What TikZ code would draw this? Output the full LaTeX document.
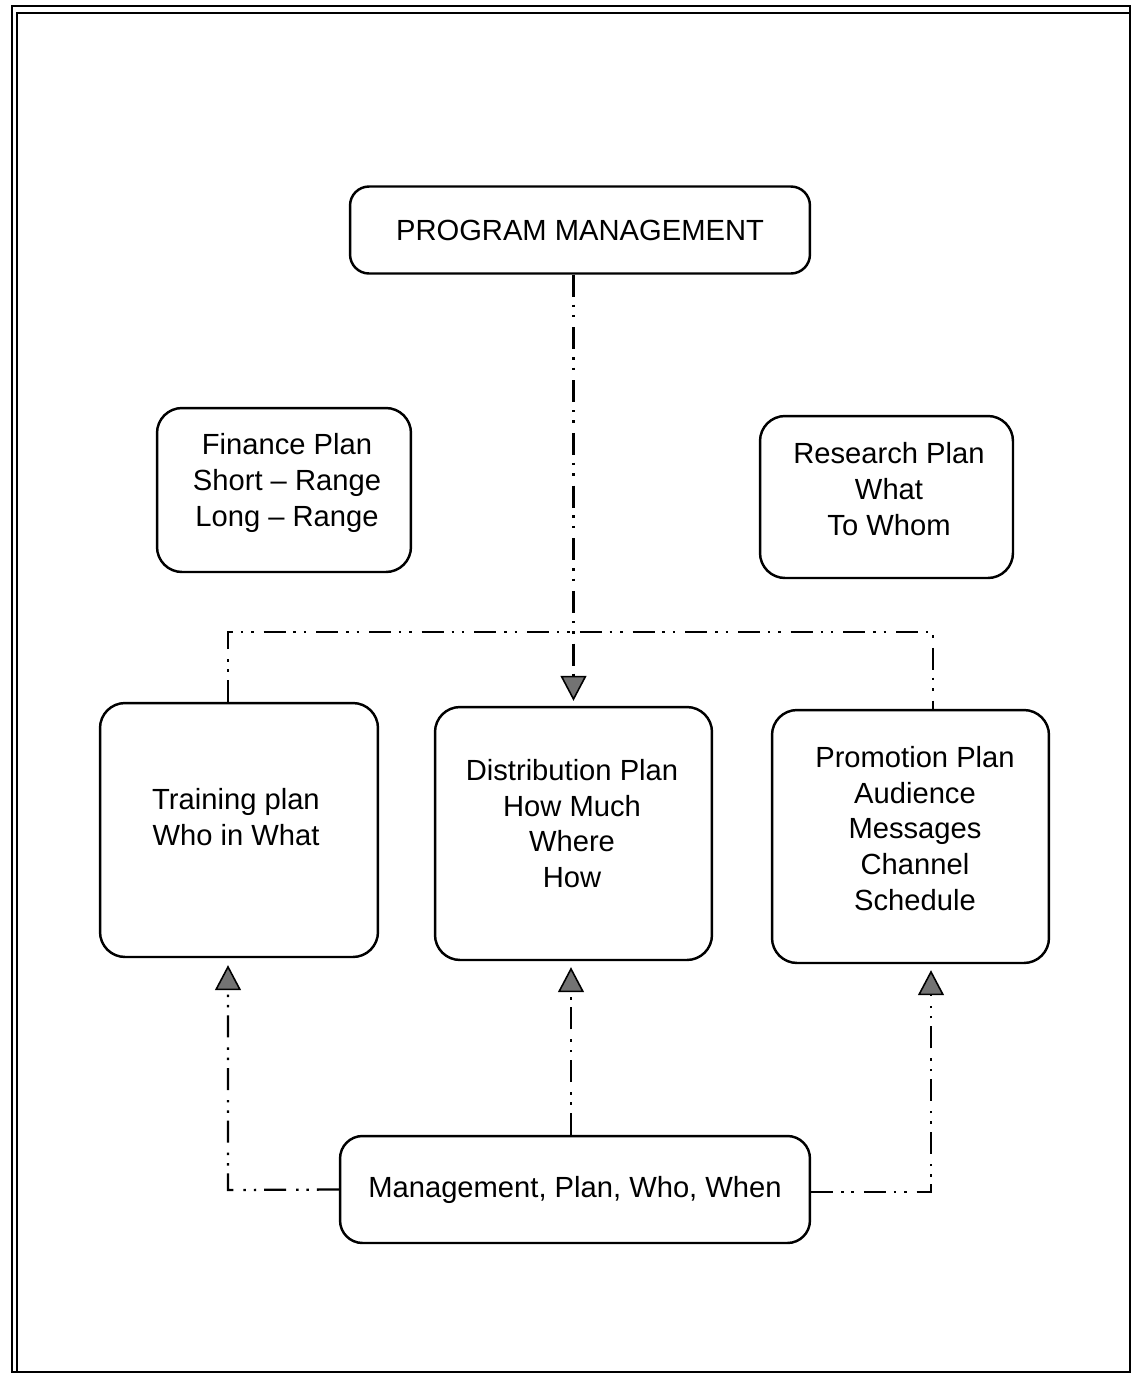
\documentclass[tikz,border=0pt]{standalone}
\usepackage{fontspec}
\setmainfont{Liberation Sans}
\usetikzlibrary{arrows.meta,calc}
\begin{document}
\begin{tikzpicture}[x=0.02cm,y=-0.02cm,
  box/.style={draw,line width=1.4pt,rounded corners=0.5cm,inner sep=0pt},
  lbl/.style={align=center,font=\fontsize{16.6}{20.4}\selectfont},
  dd/.style={line width=1.3pt,dash pattern=on 12.5pt off 4.5pt on 1.4pt off 4.5pt on 1.4pt off 5.7pt},
  tip/.style={-{Triangle[width=0.52cm,length=0.5cm,fill=black!55,line width=0.9pt]}},
  frame/.style={line width=1.3pt}]
\useasboundingbox (0,0) rectangle (1134,1374);
% page frame, doubled along the top and left
\draw[frame] (12,6) rectangle (1130,1372);
\draw[frame] (17,1372) -- (17,13) -- (1130,13);

% boxes
\node[box,rounded corners=0.38cm,minimum width=9.2cm,minimum height=1.74cm,lbl] (pm) at (580,230) {PROGRAM MANAGEMENT};
\node[box,minimum width=5.08cm,minimum height=3.28cm] (fin) at (284,490) {};
\node[box,minimum width=5.06cm,minimum height=3.24cm] (res) at (886.5,497) {};
\node[box,minimum width=5.56cm,minimum height=5.08cm] (train) at (239,830) {};
\node[box,minimum width=5.54cm,minimum height=5.06cm] (dist) at (573.5,833.5) {};
\node[box,minimum width=5.54cm,minimum height=5.06cm] (promo) at (910.5,836.5) {};
\node[box,rounded corners=0.45cm,minimum width=9.4cm,minimum height=2.14cm,lbl] (mgmt) at (575,1189.5) {Management, Plan, Who, When};

% box texts
\node[lbl] (fintext) at (287,483) {Finance Plan\\Short -- Range\\Long -- Range};
\node[lbl] (restext) at (889,489) {Research Plan\\What\\To Whom};
\node[lbl] (traintext) at (236,817) {Training plan\\Who in What};
\node[lbl] (disttext) at (572,823.5) {Distribution Plan\\How Much\\Where\\How};
\node[lbl] (promotext) at (915,828.5) {Promotion Plan\\Audience\\Messages\\Channel\\Schedule};

% connector corners
\coordinate (tl) at (228,632);
\coordinate (tr) at (933,632);
\coordinate (bl) at (228,1190);
\coordinate (br) at (931,1192);

% program management down to distribution
\draw[dd,tip,shorten >=0.1cm] (pm.south -| dist.north) -- (dist.north);
% training linked with promotion across the top
\draw[dd] (train.north -| tl) -- (tl) -- (tr) -- (promo.north -| tr);
% management up to the three plans
\draw[dd,tip,shorten >=0.12cm] (mgmt.north -| 571,0) -- (dist.south -| 571,0);
\draw[dd,tip,shorten >=0.14cm] (mgmt.west) -- (bl) -- (train.south -| bl);
\draw[dd,tip,shorten >=0.12cm] (mgmt.east |- br) -- (br) -- (promo.south -| br);
\end{tikzpicture}
\end{document}
